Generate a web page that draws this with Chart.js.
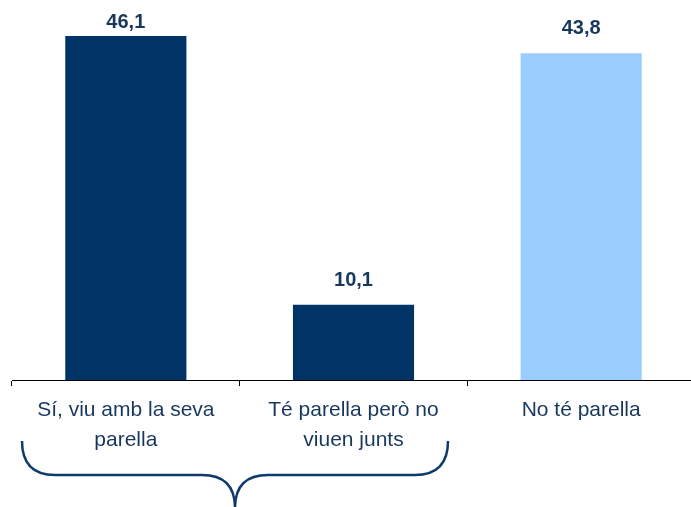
<!DOCTYPE html>
<html>
<head>
<meta charset="utf-8">
<script src="https://cdn.jsdelivr.net/npm/chart.js"></script>
<style>
  html, body { margin: 0; padding: 0; background: #fff; overflow: hidden; }
  #wrap { width: 695px; height: 507px; }
</style>
</head>
<body>
<div id="wrap"><canvas id="chart"></canvas></div>
<script>
// DATA
const categories = [
    ['Sí, viu amb la seva', 'parella'],
    ['Té parella però no', 'viuen junts'],
    'No té parella'
];
const values = [46.1, 10.1, 43.8];
const barColors = ['#003366', '#003366', '#99ccff'];

const textColor = '#17375e';

// value labels above bars, written with a comma decimal
const valueLabels = {
    id: 'valueLabels',
    afterDatasetsDraw(chart) {
        const ctx = chart.ctx;
        const meta = chart.getDatasetMeta(0);
        ctx.save();
        ctx.font = 'bold 20px "Liberation Sans", Arial, sans-serif';
        ctx.fillStyle = textColor;
        ctx.textAlign = 'center';
        ctx.textBaseline = 'alphabetic';
        meta.data.forEach((bar, i) => {
            const y = Math.max(bar.y - 19, 28);
            ctx.fillText(values[i].toFixed(1).replace('.', ','), bar.x, y);
        });
        ctx.restore();
    }
};

// curly brace grouping the first two categories
const brace = {
    id: 'brace',
    afterDraw(chart) {
        const ctx = chart.ctx;
        const area = chart.chartArea;
        const x0 = area.left + 10, x1 = 448, mid = (x0 + x1) / 2;
        const top = 441, y = 475, bot = 508, r = 33;
        ctx.save();
        ctx.strokeStyle = '#0f3a6e';
        ctx.lineWidth = 2.5;
        ctx.beginPath();
        ctx.moveTo(x0, top);
        ctx.quadraticCurveTo(x0, y, x0 + r, y);
        ctx.lineTo(mid - r, y);
        ctx.quadraticCurveTo(mid, y, mid, bot);
        ctx.moveTo(mid, bot);
        ctx.quadraticCurveTo(mid, y, mid + r, y);
        ctx.lineTo(x1 - r, y);
        ctx.quadraticCurveTo(x1, y, x1, top);
        ctx.stroke();
        ctx.restore();
    }
};

new Chart(document.getElementById('chart'), {
    type: 'bar',
    data: {
        labels: categories,
        datasets: [{
            data: values,
            backgroundColor: barColors,
            borderWidth: 0,
            barPercentage: 0.532,
            categoryPercentage: 1
        }]
    },
    options: {
        responsive: true,
        maintainAspectRatio: false,
        animation: false,
        layout: { padding: { left: 12, right: 0, top: 7, bottom: 0 } },
        plugins: { legend: { display: false }, tooltip: { enabled: false } },
        scales: {
            x: {
                border: { display: true, color: '#000', width: 1 },
                grid: { drawOnChartArea: false, color: '#000', tickLength: 6, offset: true },
                ticks: {
                    color: textColor,
                    font: { family: '"Liberation Sans", Arial, sans-serif', size: 21, lineHeight: 1.43 },
                    padding: 9,
                    maxRotation: 0,
                    autoSkip: false
                },
                afterFit(scale) { scale.height = 127; }
            },
            y: {
                display: false,
                min: 0,
                max: 50
            }
        }
    },
    plugins: [valueLabels, brace]
});
</script>
</body>
</html>
